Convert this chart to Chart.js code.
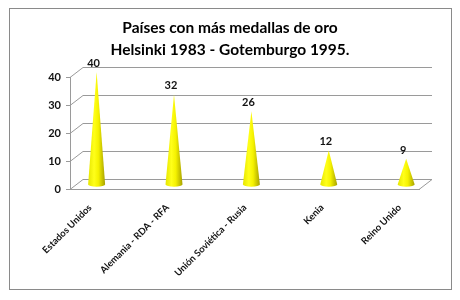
<!DOCTYPE html>
<html>
<head>
<meta charset="utf-8">
<script src="https://cdn.jsdelivr.net/npm/chart.js@4.4.1/dist/chart.umd.min.js"></script>
<style>
  html, body { margin: 0; padding: 0; background: #fff; }
  #wrap { width: 460px; height: 300px; }
</style>
</head>
<body>
<div id="wrap"><canvas id="medalChart"></canvas></div>
<script>
// ─── Data ──────────────────────────────────────────────────────────────────
const countries = ['Estados Unidos', 'Alemania - RDA - RFA', 'Unión Soviética - Rusia', 'Kenia', 'Reino Unido'];
const goldMedals = [40, 32, 26, 12, 9];
const yTicks = [0, 10, 20, 30, 40];
const titleLines = ['Países con más medallas de oro', 'Helsinki 1983 - Gotemburgo 1995.'];

// ─── 3D look ───────────────────────────────────────────────────────────────
const DEPTH_X = 13;
const DEPTH_Y = -10;
const WALL = '#9a9a9a';
const FONT = 'Lato';

// back wall + floor, drawn from the y scale ticks
const wallPlugin = {
  id: 'wall3d',
  beforeDraw(chart) {
    const c = chart.ctx;
    c.save();
    c.fillStyle = '#fff';
    c.fillRect(0, 0, chart.width, chart.height);
    c.strokeStyle = '#8a8a8a';
    c.lineWidth = 1;
    c.strokeRect(9.5, 8.5, 442, 281);
    c.restore();
  },
  beforeDatasetsDraw(chart) {
    const { ctx: c, chartArea: a, scales: { y } } = chart;
    c.save();
    c.strokeStyle = WALL;
    c.lineWidth = 1;
    yTicks.forEach((v) => {
      const py = Math.round(y.getPixelForValue(v)) + 0.5;
      c.beginPath();
      c.moveTo(a.left, py);
      c.lineTo(a.left + DEPTH_X, py + DEPTH_Y);
      c.lineTo(a.right + DEPTH_X, py + DEPTH_Y);
      c.stroke();
    });
    const py0 = Math.round(y.getPixelForValue(0)) + 0.5;
    c.beginPath();
    c.moveTo(a.right, py0);
    c.lineTo(a.right + DEPTH_X, py0 + DEPTH_Y);
    c.stroke();
    c.restore();
  },
};

// cones at the bar positions, set half way into the depth
const conePlugin = {
  id: 'cones',
  afterDatasetsDraw(chart) {
    const c = chart.ctx;
    const meta = chart.getDatasetMeta(0);
    c.save();
    meta.data.forEach((bar, i) => {
      const cx = bar.x + DEPTH_X / 2;
      const tip = bar.y + DEPTH_Y / 2;
      const base = bar.base + DEPTH_Y / 2 + 1;
      const r = 8.5;
      const g = c.createLinearGradient(cx - r, 0, cx + r, 0);
      g.addColorStop(0, '#e6e600');
      g.addColorStop(0.35, '#ffff1a');
      g.addColorStop(0.6, '#f5f200');
      g.addColorStop(1, '#a8a200');
      c.fillStyle = g;
      c.beginPath();
      c.moveTo(cx, tip);
      c.lineTo(cx + r, base);
      c.ellipse(cx, base, r, 2.2, 0, 0, Math.PI);
      c.lineTo(cx, tip);
      c.closePath();
      c.fill();

      c.fillStyle = '#111';
      c.font = `bold 11px ${FONT}`;
      c.textAlign = 'center';
      c.textBaseline = 'bottom';
      c.fillText(String(goldMedals[i]), cx - 3, tip - 3);
    });
    c.restore();
  },
};

new Chart(document.getElementById('medalChart'), {
  type: 'bar',
  data: {
    datasets: [{
      label: 'Medallas de oro',
      data: countries.map((name, i) => ({ x: i, y: goldMedals[i] })),
      backgroundColor: 'rgba(0,0,0,0)',
      borderWidth: 0,
    }],
  },
  options: {
    responsive: true,
    maintainAspectRatio: false,
    animation: false,
    layout: { padding: { left: 25, right: 25, top: 0, bottom: 0 } },
    plugins: {
      legend: { display: false },
      tooltip: { enabled: false },
      title: {
        display: true,
        text: titleLines,
        color: '#000',
        font: { family: FONT, size: 15.5, weight: 'bold', lineHeight: 1.42 },
        padding: { top: 17, bottom: 16 },
      },
    },
    scales: {
      x: {
        type: 'linear',
        offset: false,
        min: -0.26,
        max: 4.25,
        afterBuildTicks: (axis) => { axis.ticks = countries.map((n, i) => ({ value: i })); },
        afterFit: (axis) => { axis.height = 111; },
        grid: { display: false },
        border: { display: true, color: WALL },
        ticks: {
          autoSkip: false,
          minRotation: 45,
          maxRotation: 45,
          padding: 5,
          color: '#111',
          font: { family: FONT, size: 9.5, weight: 'bold' },
          callback: (v) => countries[v],
        },
      },
      y: {
        min: 0,
        max: 40,
        afterBuildTicks: (axis) => { axis.ticks = yTicks.map((v) => ({ value: v })); },
        afterFit: (axis) => { axis.width = 45; },
        grid: { drawOnChartArea: false, drawTicks: true, tickLength: 4, color: WALL },
        border: { display: true, color: WALL },
        ticks: {
          padding: 5,
          color: '#111',
          font: { family: FONT, size: 11, weight: 'bold' },
        },
      },
      // empty right-hand strip so the title stays centred on the page
      yRight: {
        position: 'right',
        min: 0,
        max: 40,
        afterFit: (axis) => { axis.width = 16; },
        grid: { display: false },
        border: { display: false },
        ticks: { display: false },
      },
    },
  },
  plugins: [wallPlugin, conePlugin],
});
</script>
</body>
</html>
